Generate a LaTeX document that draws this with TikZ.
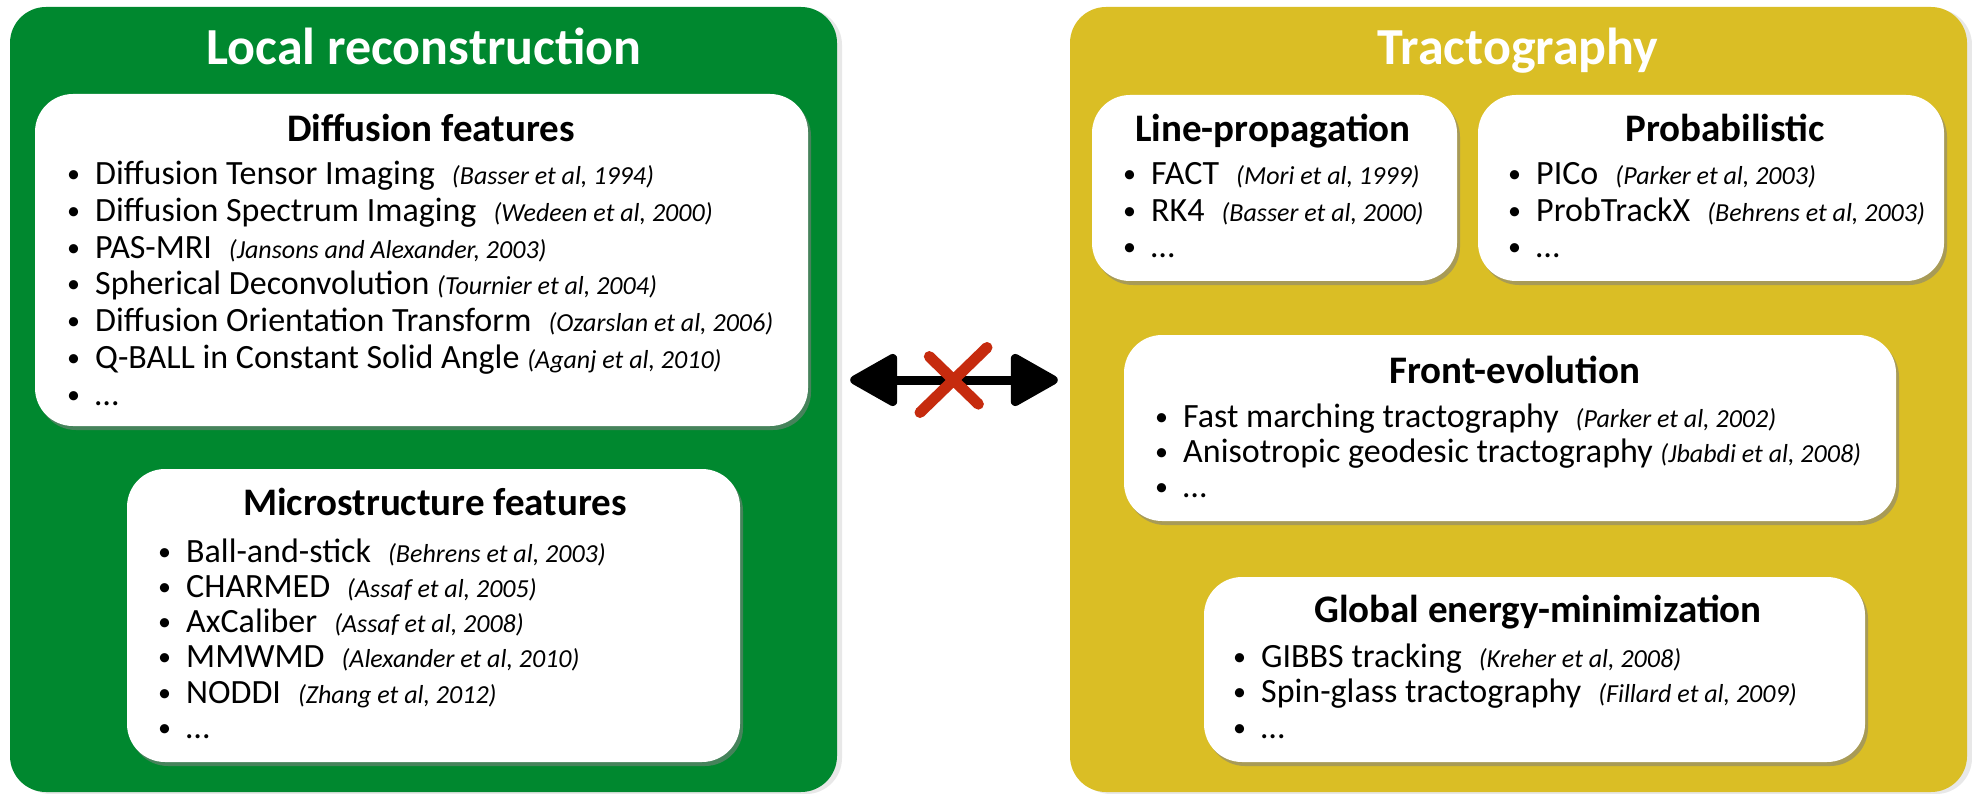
\documentclass[tikz,border=0pt]{standalone}
\usepackage{fontspec}
\setmainfont{Carlito}
\usetikzlibrary{positioning,shapes.misc,arrows.meta,shadows}

\definecolor{localgreen}{HTML}{00882F}
\definecolor{tractyellow}{HTML}{DABE25}
\definecolor{banred}{HTML}{C62B0E}

\newcommand{\itm}{\makebox[30pt][l]{\hspace{2pt}\raisebox{2pt}{\fontsize{26}{26}\selectfont •}}}
\newcommand{\paper}[1]{{\fontsize{26}{30}\selectfont\itshape #1}}

\begin{document}
\begin{tikzpicture}
  [x=1pt, y=-1pt,
   panel/.style={rectangle, rounded corners=36pt, inner sep=0pt,
     drop shadow={shadow xshift=5pt, shadow yshift=-2pt, opacity=.18}},
   featbox/.style={rectangle, rounded corners=38pt, fill=white, inner sep=0pt,
     drop shadow={shadow xshift=3pt, shadow yshift=-4pt, opacity=.55}},
   title/.style={text=white, anchor=base, font=\fontsize{52}{60}\selectfont\bfseries},
   head/.style={anchor=base, font=\fontsize{39}{45}\selectfont\bfseries},
   items/.style={font=\fontsize{34}{#1}\selectfont, align=left,
     anchor=base west, inner sep=0pt},
   items/.default=35.5,
   ban/.style={cross out, draw=banred, line width=11pt, line cap=round,
     minimum width=56pt, minimum height=54pt, inner sep=0pt}]

  \path[use as bounding box, fill=white] (0,0) rectangle (1972,794);

  % the two panels
  \node[panel, fill=localgreen, minimum width=827pt, minimum height=785pt]
    (local) at (423.5,399.5) {};
  \node[panel, fill=tractyellow, minimum width=897pt, minimum height=785pt]
    (tracto) at (1518.5,399.5) {};

  \node[title] (localT) at (424,65) {Local reconstruction};
  \node[title] (tractoT) at (1518,65) {Tractography};

  % local reconstruction (lists sit on their last line)
  \node[featbox, minimum width=773pt, minimum height=332pt] (diffbox) at (421.5,260) {};
  \node[head] (diffH) at (431,142) {Diffusion features};
  \node[items=36.7] (diffL) at (65,405) {%
    \itm Diffusion Tensor Imaging\enspace\paper{(Basser et al, 1994)}\\
    \itm Diffusion Spectrum Imaging\enspace\paper{(Wedeen et al, 2000)}\\
    \itm PAS-MRI\enspace\paper{(Jansons and Alexander, 2003)}\\
    \itm Spherical Deconvolution \paper{(Tournier et al, 2004)}\\
    \itm Diffusion Orientation Transform\enspace\paper{(Ozarslan et al, 2006)}\\
    \itm Q-BALL in Constant Solid Angle \paper{(Aganj et al, 2010)}\\
    \itm …};

  \node[featbox, minimum width=613pt, minimum height=293pt] (microbox) at (433.5,615.5) {};
  \node[head] (microH) at (435,515) {Microstructure features};
  \node[items=35.3] (microL) at (156,738.5) {%
    \itm Ball-and-stick\enspace\paper{(Behrens et al, 2003)}\\
    \itm CHARMED\enspace\paper{(Assaf et al, 2005)}\\
    \itm AxCaliber\enspace\paper{(Assaf et al, 2008)}\\
    \itm MMWMD\enspace\paper{(Alexander et al, 2010)}\\
    \itm NODDI\enspace\paper{(Zhang et al, 2012)}\\
    \itm …};

  % tractography
  \node[featbox, minimum width=365pt, minimum height=186pt] (linebox) at (1274.5,188) {};
  \node[head] (lineH) at (1273,142) {Line-propagation};
  \node[items=36.3] (lineL) at (1121,257.6) {%
    \itm FACT\enspace\paper{(Mori et al, 1999)}\\
    \itm RK4\enspace\paper{(Basser et al, 2000)}\\
    \itm …};

  \node[featbox, minimum width=466pt, minimum height=186pt] (probbox) at (1711,188) {};
  \node[head] (probH) at (1725,142) {Probabilistic};
  \node[items=36.3] (probL) at (1506,257.6) {%
    \itm PICo\enspace\paper{(Parker et al, 2003)}\\
    \itm ProbTrackX\enspace\paper{(Behrens et al, 2003)}\\
    \itm …};

  \node[featbox, minimum width=772pt, minimum height=186pt] (frontbox) at (1510,428) {};
  \node[head] (frontH) at (1515,383) {Front-evolution};
  \node[items=35] (frontL) at (1153,497) {%
    \itm Fast marching tractography\enspace\paper{(Parker et al, 2002)}\\
    \itm Anisotropic geodesic tractography \paper{(Jbabdi et al, 2008)}\\
    \itm …};

  \node[featbox, minimum width=661pt, minimum height=185pt] (globbox) at (1534.5,669.5) {};
  \node[head] (globH) at (1538,622) {Global energy-minimization};
  \node[items] (globL) at (1231,738) {%
    \itm GIBBS tracking\enspace\paper{(Kreher et al, 2008)}\\
    \itm Spin-glass tractography\enspace\paper{(Fillard et al, 2009)}\\
    \itm …};

  % no direct link between the two
  \draw[line width=9pt, shorten <=13pt, shorten >=12pt,
        {Triangle[length=52pt,width=56pt,round]}-{Triangle[length=52pt,width=56pt,round]}]
    ([yshift=19.5pt]local.east) -- node[ban] (nolink) {} ([yshift=19.5pt]tracto.west);

\end{tikzpicture}
\end{document}
